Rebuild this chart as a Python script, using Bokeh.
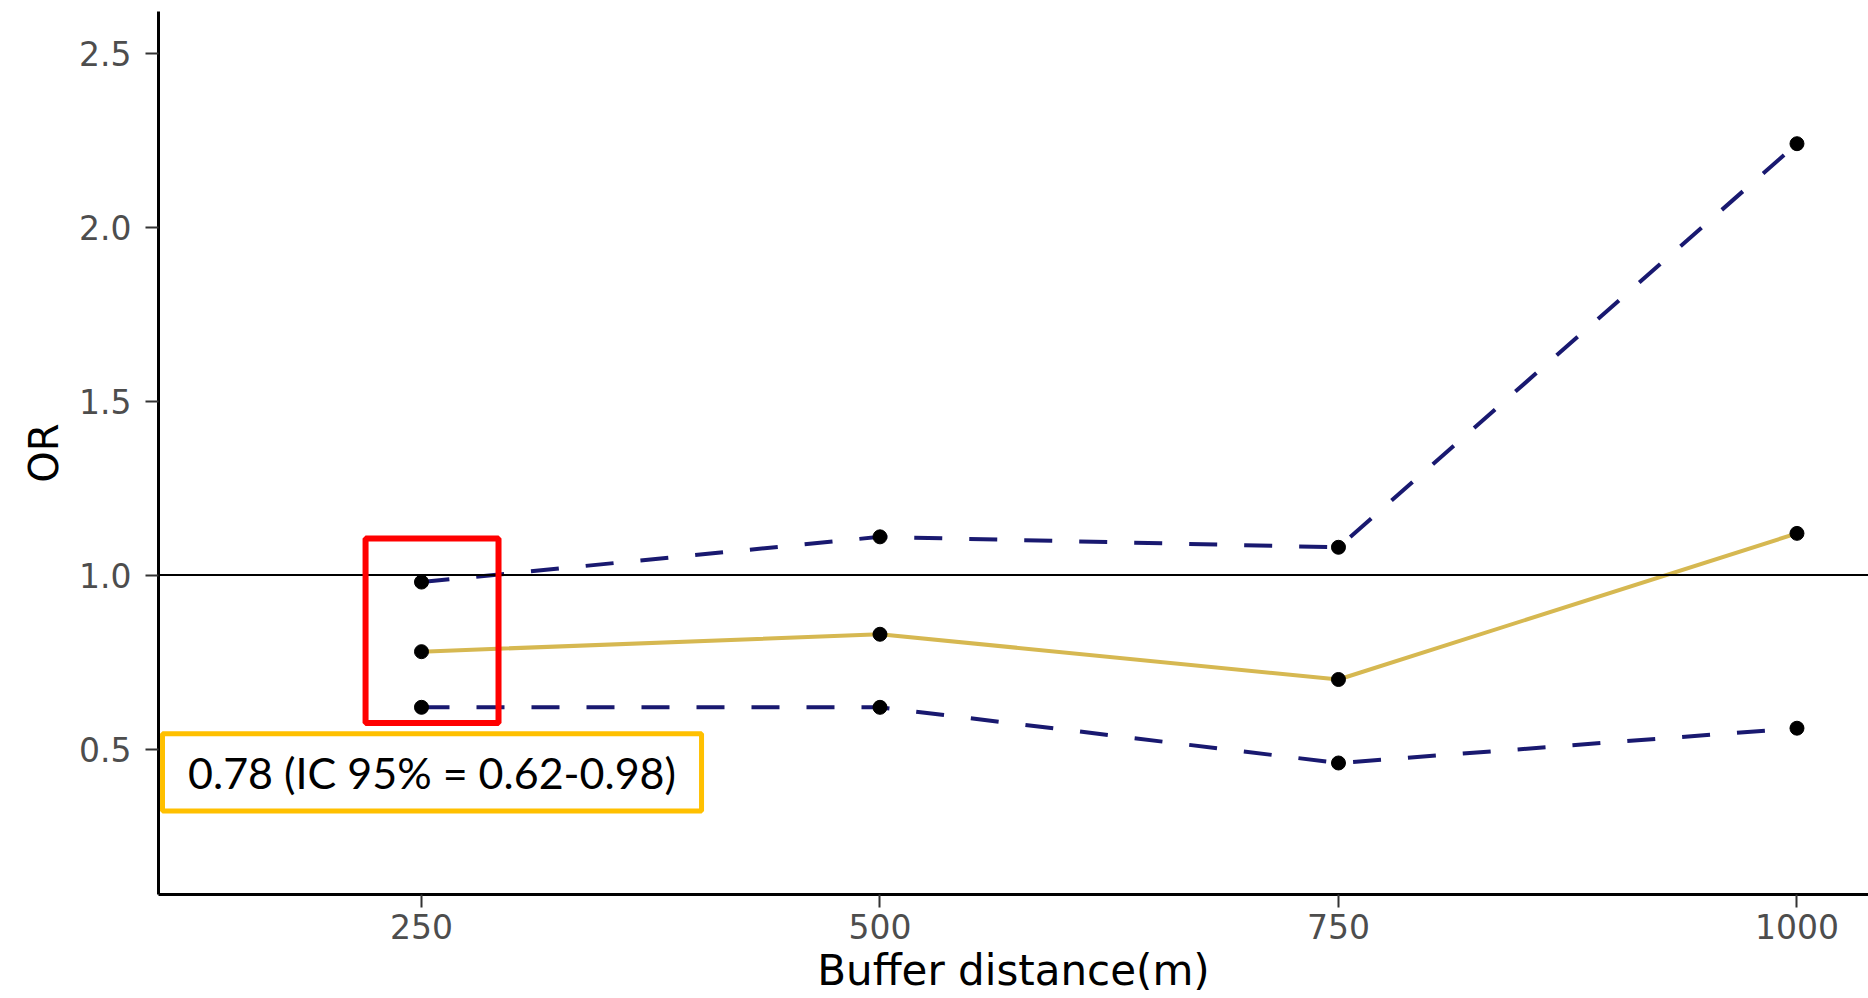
from bokeh.plotting import figure
from bokeh.models import Span, BoxAnnotation, Label, FixedTicker, Range1d
from bokeh.embed import file_html
from bokeh.resources import INLINE

# Data
buffer_m = [250, 500, 750, 1000]
or_values = [0.78, 0.83, 0.70, 1.12]
ci_lower = [0.62, 0.62, 0.46, 0.56]
ci_upper = [0.98, 1.11, 1.08, 2.24]
x_ticks = [250, 500, 750, 1000]
y_ticks = [0.5, 1.0, 1.5, 2.0, 2.5]
y_tick_labels = ["0.5", "1.0", "1.5", "2.0", "2.5"]
x_title = "Buffer distance(m)"
y_title = "OR"
annotation_text = "0.78 (IC 95% = 0.62-0.98)"

FONT = "DejaVu Sans"

p = figure(width=1868, height=998, output_backend="svg", toolbar_location=None,
           x_range=Range1d(106.6, 1039), y_range=Range1d(0.082, 2.62),
           min_border_left=158, min_border_right=0, min_border_top=11,
           min_border_bottom=104)
p.background_fill_color = "white"
p.border_fill_color = "white"
p.outline_line_color = None
p.xgrid.visible = False
p.ygrid.visible = False

# axes
for ax in (p.xaxis[0], p.yaxis[0]):
    ax.axis_line_color = "black"
    ax.axis_line_width = 3
    ax.major_tick_line_color = "#333333"
    ax.major_tick_line_width = 2
    ax.major_tick_out = 13
    ax.major_tick_in = 0
    ax.minor_tick_line_color = None
    ax.major_label_text_font = FONT
    ax.major_label_text_font_size = "33px"
    ax.major_label_text_color = "#4d4d4d"
    ax.axis_label_text_font = FONT
    ax.axis_label_text_font_style = "normal"
    ax.axis_label_text_color = "black"

p.xaxis.ticker = FixedTicker(ticks=x_ticks)
p.yaxis.ticker = FixedTicker(ticks=y_ticks)
p.yaxis.major_label_overrides = {t: l for t, l in zip(y_ticks, y_tick_labels)}
p.xaxis.axis_label = x_title
p.yaxis.axis_label = y_title
p.xaxis.axis_label_text_font_size = "42px"
p.yaxis.axis_label_text_font_size = "40px"
p.xaxis.major_label_standoff = 6
p.yaxis.major_label_standoff = 14
p.xaxis.axis_label_standoff = 4
p.yaxis.axis_label_standoff = 9

# reference line
p.add_layout(Span(location=1.0, dimension="width", line_color="black", line_width=2))

navy = "#191970"
gold = "#d6b851"
p.line(buffer_m, ci_upper, line_color=navy, line_width=4, line_dash="28 27")
p.line(buffer_m, ci_lower, line_color=navy, line_width=4, line_dash="28 27")
p.line(buffer_m, or_values, line_color=gold, line_width=4)
for series in (ci_upper, or_values, ci_lower):
    p.scatter(buffer_m, series, size=14, color="black")

# annotations: red box around first buffer, orange text box
p.add_layout(BoxAnnotation(left=buffer_m[0] - 30.5, right=buffer_m[0] + 42,
                           top=ci_upper[0] + 0.125, bottom=ci_lower[0] - 0.045,
                           fill_alpha=0, line_color="#ff0000", line_alpha=1,
                           line_width=6))
p.add_layout(BoxAnnotation(left=108.8, right=402.7, top=0.544, bottom=0.322,
                           fill_color="white", fill_alpha=1,
                           line_color="#ffc000", line_alpha=1, line_width=5))
p.add_layout(Label(x=(108.8 + 402.7) / 2, y=(0.544 + 0.322) / 2, text=annotation_text,
                   text_align="center", text_baseline="middle",
                   text_font="Lato", text_font_size="43px", text_color="black"))

open("out.html", "w").write(file_html(p, INLINE))
